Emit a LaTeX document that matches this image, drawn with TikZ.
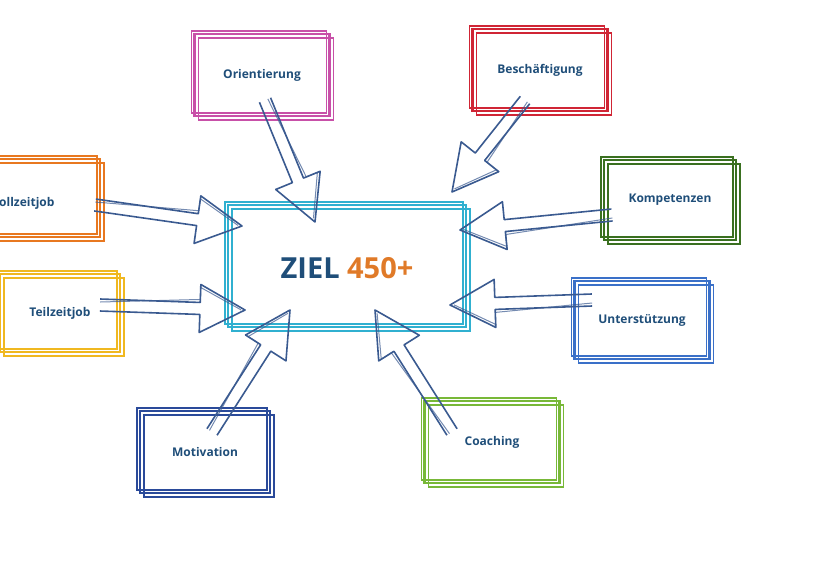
\documentclass[tikz,border=0pt]{standalone}
\usepackage{fontspec}
\setmainfont{Open Sans}
\usetikzlibrary{calc}
\definecolor{cpink}{HTML}{C850A8}
\definecolor{cred}{HTML}{D02535}
\definecolor{corange}{HTML}{E87820}
\definecolor{cyellow}{HTML}{F0B820}
\definecolor{cdgreen}{HTML}{3A7020}
\definecolor{cblue}{HTML}{3A70C8}
\definecolor{cnavy}{HTML}{2A4A9A}
\definecolor{cgreen}{HTML}{78B838}
\definecolor{ccyan}{HTML}{30B0D0}
\definecolor{ctext}{HTML}{1F4E79}
\definecolor{carrow}{HTML}{3A5A90}
\definecolor{c450}{HTML}{E07A28}
\tikzset{
 lbl/.style={font=\bfseries\fontsize{12}{14}\selectfont, text=ctext},
 sbox/.style={draw=#1, line width=2.2pt, lbl,
   postaction={draw=#1, line width=1.4pt, transform canvas={shift={(4pt,-4pt)}}},
   preaction={draw=#1, line width=1.2pt, transform canvas={shift={(-3pt,3pt)}}}},
 arr/.style={draw=carrow, line width=1.6pt, line join=round},
}
\newcommand\harrow[2]{%
 \coordinate (h) at ($(#2)!45pt!(#1)$);
 \draw[arr] ($(#1)!6pt!90:(#2)$) -- ($(h)!6pt!90:(#2)$) -- ($(h)!24pt!90:(#2)$) -- (#2)
   -- ($(h)!24pt!-90:(#2)$) -- ($(h)!6pt!-90:(#2)$) -- ($(#1)!6pt!-90:(#2)$);
 \draw[arr, line width=1pt, opacity=0.7] ($(#1)!3pt!90:(#2)$) -- ($(h)!9pt!90:(#2)$) -- ($(h)!21pt!90:(#2)$) -- ($(#2)!4pt!(#1)$);
}
\begin{document}
\begin{tikzpicture}[x=1pt,y=-1pt]
\useasboundingbox (0,0) rectangle (840,560);
\clip (0,0) rectangle (840,560);
\node[sbox=ccyan, minimum width=238pt, minimum height=122pt] (z) at (347,266) {};
\node[font=\bfseries\fontsize{29}{32}\selectfont] (zt) at (347,268) {\textcolor{ctext}{ZIEL} \textcolor{c450}{450+}};
\node[sbox=cpink, minimum width=135pt, minimum height=82pt] (o) at (262,75) {Orientierung};
\node[sbox=cred, minimum width=135pt, minimum height=82pt] (b) at (540,70) {Beschäftigung};
\node[sbox=corange, minimum width=160pt, minimum height=78pt] (v) at (20,198) {};
\node[lbl, anchor=east] (vt) at (58,203) {Vollzeitjob};
\node[sbox=cyellow, minimum width=120pt, minimum height=78pt] (t) at (60,313) {Teilzeitjob};
\node[sbox=cdgreen, minimum width=132pt, minimum height=80pt] (k) at (670,200) {Kompetenzen};
\node[sbox=cblue, minimum width=135pt, minimum height=78pt] (u) at (642,320) {Unterstützung};
\node[sbox=cnavy, minimum width=130pt, minimum height=82pt] (m) at (205,452) {Motivation};
\node[sbox=cgreen, minimum width=135pt, minimum height=82pt] (c) at (492,442) {Coaching};
\coordinate (o1) at (265,100); \coordinate (o2) at (315,222);
\coordinate (b1) at (525,100); \coordinate (b2) at (452,192);
\coordinate (v1) at (95,205);  \coordinate (v2) at (242,226);
\coordinate (t1) at (100,305); \coordinate (t2) at (245,310);
\coordinate (k1) at (612,215); \coordinate (k2) at (460,230);
\coordinate (u1) at (592,300); \coordinate (u2) at (450,305);
\coordinate (m1) at (212,432); \coordinate (m2) at (290,310);
\coordinate (c1) at (452,432); \coordinate (c2) at (375,310);
\harrow{o1}{o2}\harrow{b1}{b2}\harrow{v1}{v2}\harrow{t1}{t2}
\harrow{k1}{k2}\harrow{u1}{u2}\harrow{m1}{m2}\harrow{c1}{c2}
\end{tikzpicture}
\end{document}
